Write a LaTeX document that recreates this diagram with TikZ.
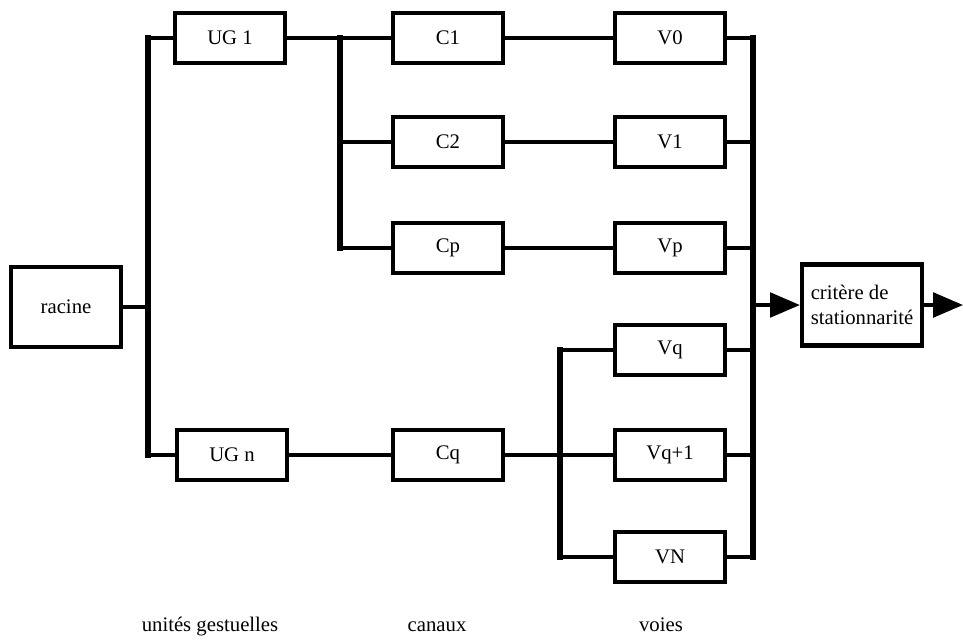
\documentclass[tikz,border=0pt]{standalone}
\usepackage{fontspec}
\setmainfont{Liberation Serif}
\usetikzlibrary{arrows.meta}
\tikzstyle{bloc}=[rectangle, draw, line width=2.4pt, minimum width=2.2cm, minimum height=1cm, inner sep=1pt, fill=white]
\tikzstyle{link}=[line width=2pt]
\tikzstyle{bus}=[line width=3pt, line cap=rect]
\tikzstyle{fleche}=[line width=2pt, -{Triangle[length=17pt,width=14pt]}]
\tikzstyle{legende}=[anchor=base]
\newcommand{\bloc}{\node[bloc]}

\begin{document}
\begin{tikzpicture}[x=0.02cm, y=-0.02cm, font=\fontsize{11.8}{14}\selectfont]
\useasboundingbox (0,0) rectangle (963,640);
% colonnes des bus
\coordinate (xa) at (148,0);
\coordinate (xb) at (340,0);
\coordinate (xc) at (560,0);
\coordinate (xd) at (753,0);
\coordinate (fin) at (963,305);

\bloc (racine) at (66,307)[minimum height=1.6cm]{racine};
\bloc (ug1) at (230,38){UG 1};
\bloc (ugn) at (232,455){UG n};
\foreach \n/\y in {1/38,2/142,p/248,q/455}{
	\bloc (c\n) at (448,\y){C\n};
	}
\foreach \n/\t/\y in {0/0/38,1/1/142,p/p/248,q/q/350,q1/q+1/455,N/N/557}{
	\bloc (v\n) at (670,\y){V\t};
	}
\bloc (crit) at (862,305)[minimum width=2.4cm, minimum height=1.62cm, align=left]{critère de\\stationnarité};

% racine -> unites gestuelles
\draw[link] (racine) -- (racine -| xa);
\draw[bus] (ug1.west -| xa) -- (ugn.west -| xa);
\draw[link] (ug1.west -| xa) -- (ug1.west) (ugn.west -| xa) -- (ugn.west);
% UG 1 -> canaux
\draw[link] (ug1) -- (c1);
\draw[bus] (c1.west -| xb) -- (cp.west -| xb);
\draw[link] (c2.west -| xb) -- (c2.west) (cp.west -| xb) -- (cp.west);
% UG n -> Cq -> voies
\draw[link] (ugn) -- (cq) (cq) -- (vq1);
\draw[bus] (vq.west -| xc) -- (vN.west -| xc);
\draw[link] (vq.west -| xc) -- (vq.west) (vN.west -| xc) -- (vN.west);
% canaux -> voies
\draw[link] (c1) -- (v0) (c2) -- (v1) (cp) -- (vp);
% voies -> critere
\draw[bus] (v0.east -| xd) -- (vN.east -| xd);
\foreach \n in {0,1,p,q,q1,N}{
	\draw[link] (v\n.east) -- (v\n.east -| xd);
	}
\draw[fleche] (crit.west -| xd) -- (crit.west);
\draw[fleche] (crit.east) -- (fin);

\node[legende] (lug) at (210,631){unités gestuelles};
\node[legende] (lc) at (437,631){canaux};
\node[legende] (lv) at (661,631){voies};
\end{tikzpicture}
\end{document}
